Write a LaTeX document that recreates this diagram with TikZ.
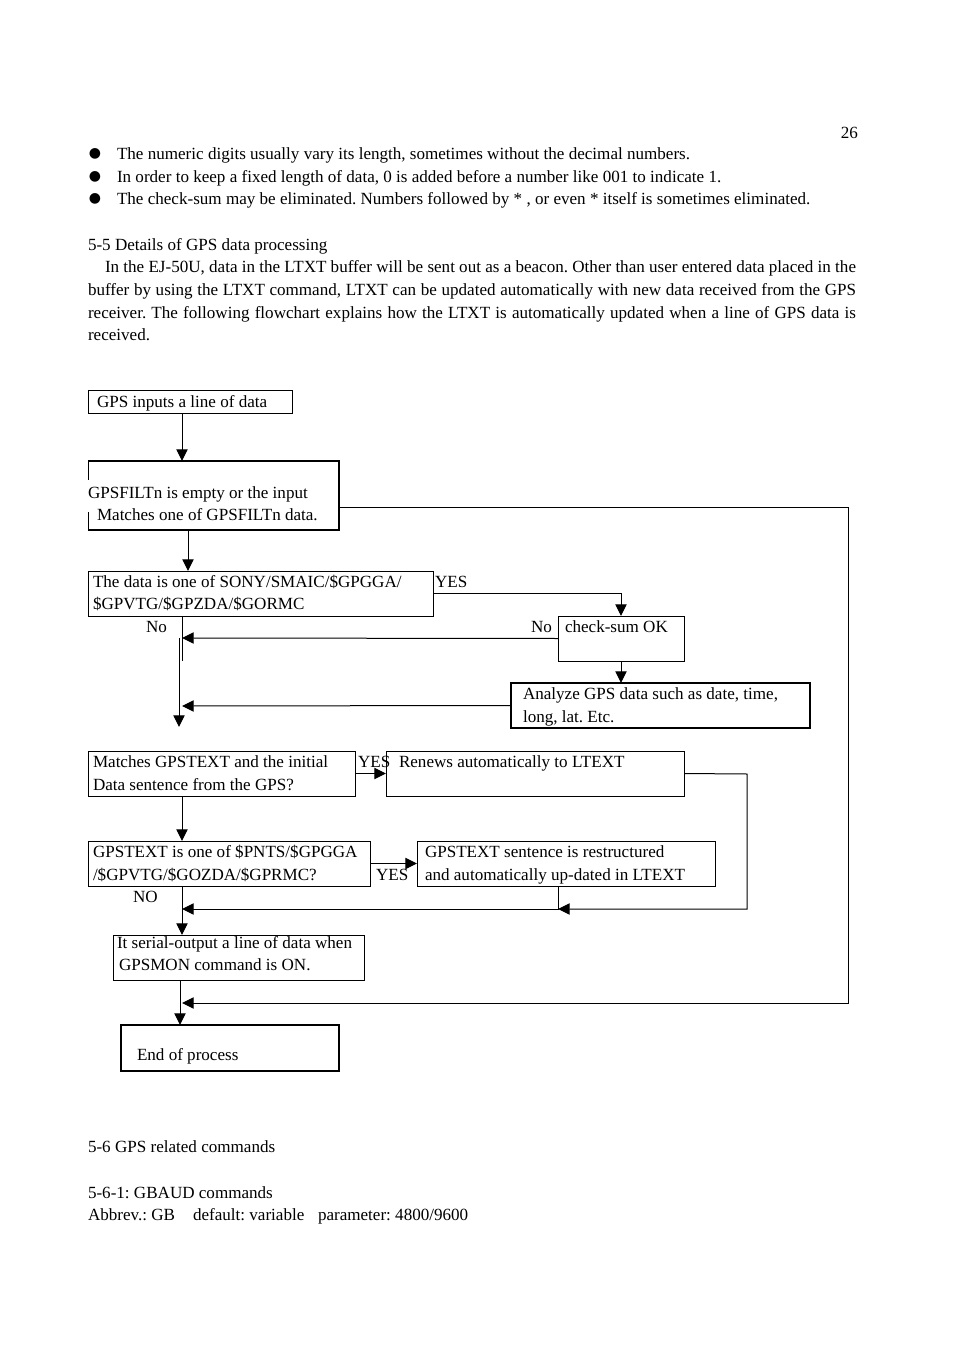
\documentclass[tikz,border=0pt]{standalone}
\usepackage{fontspec}
\setmainfont{Liberation Serif}
\newfontfamily\dejavu{DejaVu Sans}
\usetikzlibrary{arrows.meta}
\newcommand\fsz{\fontsize{12.8}{15}\selectfont\frenchspacing}
\begin{document}
\begin{tikzpicture}[x=0.75pt,y=-0.75pt,
  every node/.style={inner sep=0pt,outer sep=0pt,font=\fsz},
  box/.style={draw,rectangle,line width=0.75pt},
  thickbox/.style={box,line width=1.5pt},
  txt/.style={anchor=base west,yshift=-1.5pt},
  btxt/.style={anchor=base west,yshift=-0.6pt},
  ln/.style={line width=0.75pt},
  arr/.style={ln,-{Triangle[length=8.8pt,width=8.5pt]}},
  bul/.style={anchor=center,font=\dejavu\fontsize{10.5}{12}\selectfont}]
\fill[white] (0,0) rectangle (954,1351);
\useasboundingbox (0,0) rectangle (954,1351);

% header text
\node[anchor=base east,yshift=-1.5pt] (pg) at (858,137) {26};
\node[bul] (u1) at (95,154) {●};
\node[bul] (u2) at (95,177) {●};
\node[bul] (u3) at (95,199) {●};
\node[txt] (t1) at (117,158) {The numeric digits usually vary its length, sometimes without the decimal numbers.};
\node[txt] (t2) at (117,181) {In order to keep a fixed length of data, 0 is added before a number like 001 to indicate 1.};
\node[txt] (t3) at (117,203) {The check-sum may be eliminated. Numbers followed by * , or even * itself is sometimes eliminated.};
\node[txt] (h55) at (88,249) {5-5 Details of GPS data processing};
\node[txt] (p1) at (105,271) {\makebox[563.25pt][s]{In the EJ-50U, data in the LTXT buffer will be sent out as a beacon. Other than user entered data placed in the}};
\node[txt] (p2) at (88,294) {\makebox[576pt][s]{buffer by using the LTXT command, LTXT can be updated automatically with new data received from the GPS}};
\node[txt] (p3) at (88,317) {\makebox[576pt][s]{receiver. The following flowchart explains how the LTXT is automatically updated when a line of GPS data is}};
\node[txt] (p4) at (88,339) {received.};

% junction coordinates
\coordinate (X182) at (182,0);
\coordinate (X188) at (188,0);
\coordinate (X180) at (180,0);
\coordinate (X558) at (558,0);

% boxes
\node[box,minimum width=153pt,minimum height=17.25pt] (b1) at (190,401.5) {};
\node[rectangle,minimum width=188.25pt,minimum height=51.75pt] (b2) at (213.5,495.5) {};
\draw[line width=1.5pt] (b2.north west) -- (b2.north east) -- (b2.south east) -- (b2.south west);
\draw[ln] (b2.north west) -- ++(0,19);
\draw[ln] (b2.south west) -- ++(0,-18);
\node[box,minimum width=258.75pt,minimum height=33.75pt] (b3) at (260.5,593.5) {};
\node[box,minimum width=94.5pt,minimum height=33.75pt] (b4) at (621,638.5) {};
\node[box,line width=1.1pt,minimum width=224.25pt,minimum height=33.75pt] (b5) at (660.5,705.5) {};
\node[box,minimum width=200.25pt,minimum height=33.75pt] (b6) at (221.5,773.5) {};
\node[box,minimum width=223.5pt,minimum height=33.75pt] (b7) at (535,773.5) {};
\node[box,minimum width=211.5pt,minimum height=33.75pt] (b8) at (229,863.5) {};
\node[box,minimum width=223.5pt,minimum height=33.75pt] (b9) at (566,863.5) {};
\node[box,minimum width=188.25pt,minimum height=33.75pt] (b10) at (238.5,957.5) {};
\node[thickbox,minimum width=163.5pt,minimum height=34.5pt] (b11) at (230,1048) {};

% box texts
\node[btxt] (l1) at (97,407) {GPS inputs a line of data};
\node[btxt] (l2a) at (88,498) {GPSFILTn is empty or the input};
\node[btxt] (l2b) at (97,520) {Matches one of GPSFILTn data.};
\node[btxt] (l3a) at (93,587) {The data is one of SONY/SMAIC/\$GPGGA/};
\node[btxt] (l3b) at (93,609) {\$GPVTG/\$GPZDA/\$GORMC};
\node[btxt] (y1) at (435,587) {YES};
\node[btxt] (n1) at (146,632) {No};
\node[btxt] (n2) at (531,632) {No};
\node[btxt] (l4) at (565,632) {check-sum OK};
\node[btxt] (l5a) at (523,699) {Analyze GPS data such as date, time,};
\node[btxt] (l5b) at (523,722) {long, lat. Etc.};
\node[btxt] (l6a) at (93,767) {Matches GPSTEXT and the initial};
\node[btxt] (l6b) at (93,790) {Data sentence from the GPS?};
\node[btxt] (y2) at (358,767) {YES};
\node[btxt] (l7) at (399,767) {Renews automatically to LTEXT};
\node[btxt] (l8a) at (93,857) {GPSTEXT is one of \$PNTS/\$GPGGA};
\node[btxt] (l8b) at (93,880) {/\$GPVTG/\$GOZDA/\$GPRMC?};
\node[btxt] (y3) at (376,880) {YES};
\node[btxt] (l9a) at (425,857) {GPSTEXT sentence is restructured};
\node[btxt] (l9b) at (425,880) {and automatically up-dated in LTEXT};
\node[btxt] (n3) at (133,902) {NO};
\node[btxt] (l10a) at (117,948) {It serial-output a line of data when};
\node[btxt] (l10b) at (119,970) {GPSMON command is ON.};
\node[btxt] (l11) at (137,1060) {End of process};

% connector coordinates
\coordinate (j1) at (848,507);
\coordinate (j2) at (848,1003);
\coordinate (e1) at (182,1003);
\coordinate (j3) at (621,593);
\coordinate (e2) at (182,638);
\coordinate (v1) at (182,661);
\coordinate (v2a) at (179,638);
\coordinate (v2b) at (179,727);
\coordinate (e3) at (182,706);
\coordinate (j4) at (747,774);
\coordinate (j5) at (747,909);
\coordinate (e4) at (558,909);
\coordinate (e5) at (182,909);

% connectors
\draw[arr] (b1.south -| X182) -- (b2.north -| X182);
\draw[arr] (b2.east |- j1) -- (j1) -- (j2) -- (e1);
\draw[arr] (b2.south -| X188) -- (b3.north -| X188);
\draw[arr] (b3.east |- j3) -- (j3) -- (b4.north);
\draw[arr] (b4.west) -- (e2);
\draw[ln] (b3.south -| X182) -- (v1);
\draw[arr] (v2a) -- (v2b);
\draw[arr] (b4.south) -- (b5.north -| b4.south);
\draw[arr] (b5.west) -- (e3);
\draw[arr] (b6.east) -- (b7.west);
\draw[arr] (b7.east) -- (j4) -- (j5) -- (e4);
\draw[arr] (b6.south -| X182) -- (b8.north -| X182);
\draw[arr] (b8.east) -- (b9.west);
\draw[arr] (b9.south -| X558) -- (e4) -- (e5);
\draw[arr] (b8.south -| X182) -- (b10.north -| X182);
\draw[arr] (b10.south -| X180) -- (b11.north -| X180);

% footer text
\node[txt] (h56) at (88,1150) {5-6 GPS related commands};
\node[txt] (h561) at (88,1196) {5-6-1: GBAUD commands};
\node[txt] (f1) at (88,1218) {Abbrev.: GB};
\node[txt] (f2) at (193,1218) {default: variable};
\node[txt] (f3) at (318,1218) {parameter: 4800/9600};
\end{tikzpicture}
\end{document}
